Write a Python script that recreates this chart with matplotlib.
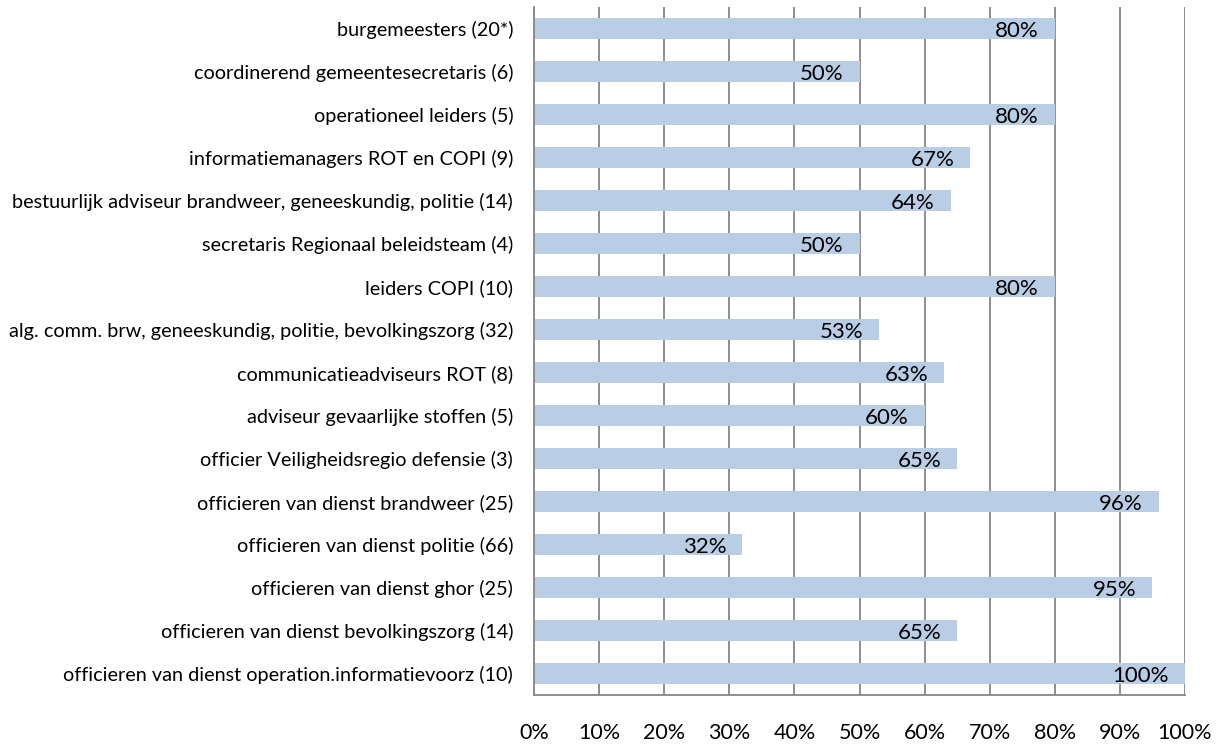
import numpy as np
import matplotlib
matplotlib.use("Agg")
from matplotlib import pyplot as plt
from matplotlib.ticker import FuncFormatter

# categories top to bottom, as in the picture
categories = [
    "burgemeesters (20*)",
    "coordinerend gemeentesecretaris (6)",
    "operationeel leiders (5)",
    "informatiemanagers ROT en COPI (9)",
    "bestuurlijk adviseur brandweer, geneeskundig, politie (14)",
    "secretaris Regionaal beleidsteam (4)",
    "leiders COPI (10)",
    "alg. comm. brw, geneeskundig, politie, bevolkingszorg (32)",
    "communicatieadviseurs ROT (8)",
    "adviseur gevaarlijke stoffen (5)",
    "officier Veiligheidsregio defensie (3)",
    "officieren van dienst brandweer (25)",
    "officieren van dienst politie (66)",
    "officieren van dienst ghor (25)",
    "officieren van dienst bevolkingszorg (14)",
    "officieren van dienst operation.informatievoorz (10)",
]
values = [80, 50, 80, 67, 64, 50, 80, 53, 63, 60, 65, 96, 32, 95, 65, 100]
xticks = list(range(0, 101, 10))

plt.rcParams['font.family'] = ['Lato', 'DejaVu Sans']

fig = plt.figure(figsize=(12.26, 7.45), dpi=100)
ax = fig.add_axes([534 / 1226, 50 / 745, 651 / 1226, 688 / 745])

y = np.arange(len(categories))
bars = ax.barh(y, values, height=0.51, color='#b9cde5', zorder=2)

ax.set_ylim(len(categories) - 0.5, -0.5)
ax.set_xlim(0, 100)
ax.set_yticks(y)
ax.set_yticklabels(categories, fontsize=14.3, color='#000000')
ax.set_xticks(xticks)
ax.xaxis.set_major_formatter(FuncFormatter(lambda v, p: f"{v:.0f}%"))
ax.tick_params(axis='x', labelsize=15.5, length=0, pad=20)
ax.tick_params(axis='y', length=0, pad=15)

ax.grid(axis='x', color='#868686', linewidth=1.3, zorder=0)
for side in ['top', 'right']:
    ax.spines[side].set_visible(False)
ax.spines['left'].set_color('#868686')
ax.spines['bottom'].set_color('#868686')
ax.spines['left'].set_linewidth(1.3)
ax.spines['bottom'].set_linewidth(1.3)

for rect, v in zip(bars, values):
    ax.annotate(f"{v}%", xy=(rect.get_width(), rect.get_y() + rect.get_height() / 2),
                xytext=(-11.5, -1.5), textcoords='offset points',
                ha='right', va='center', fontsize=16, color='#000000', zorder=3)

fig.savefig('out.png', dpi=100)
